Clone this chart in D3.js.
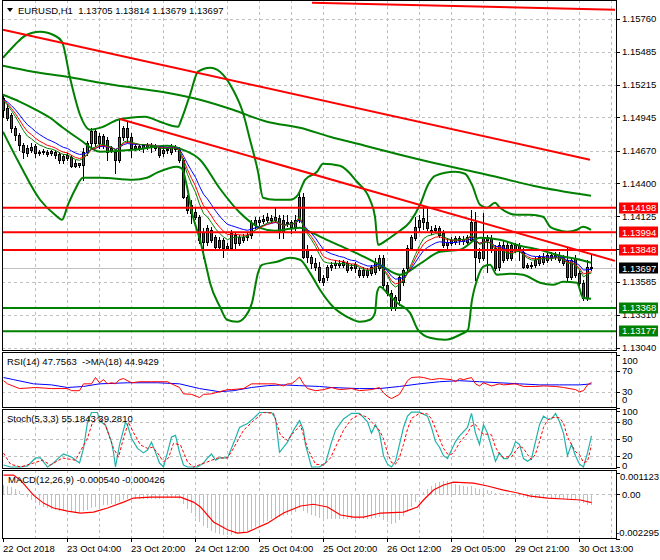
<!DOCTYPE html>
<html><head><meta charset="utf-8">
<script src="https://cdn.jsdelivr.net/npm/d3@7/dist/d3.min.js"></script>
<style>
html,body{margin:0;padding:0;background:#fff;}
svg{display:block;}
text{font-family:"Liberation Sans",Arial,sans-serif;font-size:9.5px;fill:#000;white-space:pre;}
</style></head><body>
<svg id="chart" width="660" height="560"></svg>
<script>
// ---------------- DATA ----------------
const symbolTitle = "EURUSD,H1  1.13705 1.13814 1.13679 1.13697";
const rsiTitle = "RSI(14) 47.7563  ->MA(18) 44.9429";
const stochTitle = "Stoch(5,3,3) 55.1843 39.2810";
const macdTitle = "MACD(12,26,9) -0.000540 -0.000426";

const opens = [1.15107,1.15024,1.14966,1.14858,1.14801,1.14718,1.14693,1.14676,1.14710,1.14660,1.14668,1.14660,1.14652,1.14660,1.14643,1.14627,1.14610,1.14619,1.14569,1.14552,1.14552,1.14660,1.14734,1.14834,1.14734,1.14792,1.14759,1.14693,1.14660,1.14594,1.14784,1.14858,1.14784,1.14693,1.14710,1.14693,1.14718,1.14701,1.14710,1.14693,1.14652,1.14676,1.14660,1.14701,1.14676,1.14594,1.14288,1.14222,1.14164,1.14122,1.13998,1.13916,1.14015,1.13957,1.13932,1.13932,1.13883,1.13866,1.13908,1.13908,1.13932,1.13957,1.13974,1.14056,1.14081,1.14089,1.14098,1.14098,1.14098,1.14114,1.14098,1.14073,1.14040,1.14040,1.14098,1.14288,1.13849,1.13742,1.13742,1.13709,1.13618,1.13626,1.13709,1.13725,1.13742,1.13725,1.13742,1.13709,1.13701,1.13684,1.13684,1.13684,1.13659,1.13668,1.13701,1.13783,1.13560,1.13494,1.13370,1.13436,1.13585,1.13701,1.13866,1.13949,1.14040,1.14081,1.14081,1.14015,1.14031,1.14031,1.13990,1.13916,1.13932,1.13949,1.13932,1.13924,1.13916,1.13932,1.14081,1.13833,1.13783,1.13957,1.13949,1.13866,1.13709,1.13891,1.13891,1.13891,1.13849,1.13891,1.13833,1.13725,1.13725,1.13725,1.13742,1.13750,1.13808,1.13808,1.13792,1.13808,1.13792,1.13767,1.13626,1.13783,1.13659,1.13577,1.13453,1.13705];
const highs = [1.15131,1.15057,1.14982,1.14875,1.14817,1.14734,1.14718,1.14734,1.14726,1.14676,1.14685,1.14676,1.14676,1.14676,1.14660,1.14643,1.14652,1.14635,1.14594,1.14569,1.14693,1.14751,1.14858,1.14858,1.14817,1.14809,1.14784,1.14710,1.14676,1.14933,1.14875,1.14908,1.14817,1.14726,1.14726,1.14726,1.14734,1.14734,1.14726,1.14710,1.14710,1.14701,1.14726,1.14718,1.14701,1.14610,1.14304,1.14263,1.14197,1.14139,1.14031,1.14056,1.14040,1.13974,1.13957,1.13949,1.13908,1.14015,1.13990,1.13974,1.13982,1.13990,1.14098,1.14122,1.14122,1.14139,1.14155,1.14139,1.14197,1.14139,1.14139,1.14139,1.14098,1.14139,1.14321,1.14321,1.13891,1.13808,1.13783,1.13750,1.13643,1.13725,1.13750,1.13767,1.13767,1.13767,1.13758,1.13734,1.13750,1.13701,1.13709,1.13701,1.13725,1.13783,1.13808,1.13808,1.13585,1.13519,1.13477,1.13643,1.13701,1.13891,1.13974,1.14122,1.14139,1.14205,1.14197,1.14048,1.14056,1.14048,1.14015,1.13949,1.13957,1.13965,1.13965,1.13965,1.13974,1.14180,1.14164,1.13866,1.14155,1.13974,1.13974,1.13891,1.13916,1.13932,1.13916,1.13916,1.13908,1.13908,1.13866,1.13742,1.13750,1.13792,1.13808,1.13825,1.13833,1.13833,1.13833,1.13833,1.13808,1.13866,1.13783,1.13808,1.13684,1.13601,1.13767,1.13814];
const lows = [1.14949,1.14925,1.14825,1.14759,1.14676,1.14610,1.14627,1.14660,1.14619,1.14635,1.14643,1.14627,1.14635,1.14610,1.14569,1.14569,1.14594,1.14536,1.14536,1.14536,1.14428,1.14635,1.14693,1.14710,1.14693,1.14693,1.14594,1.14660,1.14487,1.14577,1.14759,1.14743,1.14619,1.14676,1.14676,1.14660,1.14685,1.14660,1.14676,1.14619,1.14627,1.14652,1.14643,1.14668,1.14577,1.14280,1.14155,1.14073,1.14106,1.13908,1.13783,1.13891,1.13916,1.13849,1.13849,1.13792,1.13849,1.13849,1.13866,1.13891,1.13916,1.13932,1.13949,1.14031,1.14056,1.14073,1.14081,1.14081,1.14081,1.13949,1.13949,1.14048,1.13990,1.14015,1.14081,1.13783,1.13750,1.13701,1.13684,1.13585,1.13560,1.13601,1.13684,1.13701,1.13709,1.13709,1.13668,1.13684,1.13668,1.13626,1.13626,1.13626,1.13643,1.13651,1.13684,1.13544,1.13477,1.13354,1.13354,1.13395,1.13560,1.13684,1.13849,1.13932,1.13998,1.14023,1.14015,1.13982,1.13998,1.13957,1.13874,1.13866,1.13891,1.13899,1.13899,1.13899,1.13891,1.13916,1.13601,1.13750,1.13767,1.13668,1.13833,1.13684,1.13684,1.13750,1.13767,1.13767,1.13833,1.13767,1.13701,1.13701,1.13701,1.13709,1.13725,1.13734,1.13750,1.13767,1.13775,1.13750,1.13725,1.13601,1.13610,1.13626,1.13560,1.13436,1.13436,1.13679];
const closes = [1.15007,1.14941,1.14858,1.14801,1.14718,1.14660,1.14652,1.14701,1.14652,1.14652,1.14660,1.14643,1.14668,1.14635,1.14594,1.14594,1.14635,1.14544,1.14544,1.14569,1.14660,1.14734,1.14834,1.14734,1.14792,1.14718,1.14660,1.14676,1.14594,1.14784,1.14858,1.14784,1.14693,1.14710,1.14693,1.14718,1.14701,1.14710,1.14693,1.14635,1.14676,1.14685,1.14701,1.14685,1.14594,1.14288,1.14180,1.14155,1.14122,1.13932,1.13916,1.14031,1.13932,1.13874,1.13874,1.13866,1.13866,1.13990,1.13974,1.13957,1.13957,1.13974,1.14073,1.14098,1.14098,1.14106,1.14122,1.14114,1.14122,1.13998,1.13998,1.14081,1.14081,1.14098,1.14288,1.13792,1.13792,1.13792,1.13709,1.13601,1.13585,1.13709,1.13725,1.13742,1.13725,1.13750,1.13684,1.13701,1.13734,1.13643,1.13643,1.13643,1.13709,1.13750,1.13783,1.13560,1.13494,1.13370,1.13461,1.13626,1.13684,1.13866,1.13957,1.14040,1.14098,1.14114,1.14031,1.13998,1.14015,1.13974,1.13891,1.13891,1.13908,1.13916,1.13949,1.13941,1.13957,1.14081,1.13792,1.13783,1.13957,1.13932,1.13849,1.13701,1.13891,1.13767,1.13783,1.13783,1.13891,1.13849,1.13709,1.13709,1.13717,1.13767,1.13792,1.13792,1.13767,1.13783,1.13808,1.13767,1.13742,1.13626,1.13767,1.13643,1.13577,1.13453,1.13709,1.13697];

// Bollinger band lines: [bar, price]
const bbUpper = [[0,1.15437],[3,1.15545],[5.5,1.15619],[9.25,1.15652],[13,1.15619],[14.75,1.15570],[16.75,1.15272],[19.25,1.14966],[21.75,1.14842],[24.25,1.14858],[28.75,1.14925],[31.75,1.14941],[35.5,1.14949],[39.25,1.14908],[43.75,1.14867],[44.75,1.14941],[46.75,1.15131],[48.75,1.15322],[51.75,1.15355],[54.25,1.15322],[57.5,1.15173],[60,1.14982],[61.75,1.14759],[63.75,1.14495],[65,1.14280],[68,1.14263],[71.75,1.14263],[73.75,1.14304],[75.5,1.14428],[78.5,1.14495],[80,1.14561],[84.25,1.14544],[88.5,1.14412],[91.75,1.14263],[93,1.14122],[93.75,1.13891],[96,1.13932],[98.5,1.13990],[101.75,1.14081],[104.25,1.14222],[106.25,1.14387],[108,1.14461],[113,1.14495],[115.5,1.14478],[117.25,1.14387],[119.25,1.14222],[121,1.14197],[123,1.14238],[124.25,1.14197],[128.5,1.14139],[131.75,1.14139],[135,1.14122],[136.75,1.14040],[138.5,1.14015],[141,1.13998],[143.5,1.14015],[145,1.14040],[147,1.14015]];
const bbMid = [[0,1.15131],[4.25,1.15073],[8.25,1.15007],[11.75,1.14941],[15,1.14858],[19.25,1.14759],[24.25,1.14660],[32.5,1.14676],[41,1.14710],[45,1.14676],[49.25,1.14594],[54.25,1.14354],[59.25,1.14155],[64.25,1.14031],[68,1.14007],[71.75,1.14023],[74.25,1.14031],[76.75,1.13998],[82.5,1.13908],[89.25,1.13808],[94.25,1.13725],[99.25,1.13643],[104.25,1.13734],[109.25,1.13833],[114.25,1.13849],[119.25,1.13949],[124.25,1.13932],[129.25,1.13883],[134.25,1.13849],[139.25,1.13800],[144.25,1.13767],[147,1.13742]];
const bbLower = [[0,1.14825],[4.25,1.14552],[9.25,1.14263],[13,1.14139],[14.75,1.14098],[16.25,1.14222],[18,1.14346],[20,1.14445],[24.25,1.14445],[32.5,1.14428],[36,1.14445],[38.5,1.14487],[43.5,1.14536],[44.75,1.14519],[46,1.14371],[47.25,1.14155],[49.25,1.13932],[51,1.13684],[51.75,1.13577],[54.25,1.13378],[56,1.13271],[58.5,1.13254],[60.5,1.13295],[62.25,1.13411],[63.75,1.13659],[64.75,1.13725],[68.5,1.13750],[71.75,1.13783],[74.25,1.13767],[76.75,1.13659],[79.25,1.13519],[82.5,1.13378],[86,1.13295],[89.25,1.13254],[91.75,1.13271],[93,1.13328],[93.5,1.13494],[94.25,1.13544],[96,1.13494],[98.5,1.13411],[101.75,1.13328],[103.75,1.13188],[106.75,1.13122],[110.5,1.13105],[114.25,1.13147],[116.25,1.13188],[117.25,1.13436],[118.5,1.13601],[120,1.13709],[121.75,1.13725],[123.5,1.13643],[126.75,1.13651],[130,1.13643],[134.25,1.13577],[137.5,1.13560],[140,1.13585],[143.5,1.13577],[145,1.13453],[147,1.13444]];
const slowMA = [[0,1.15371],[7.5,1.15322],[16,1.15280],[24.25,1.15231],[32.5,1.15189],[41,1.15148],[49.25,1.15090],[57.5,1.15007],[66,1.14908],[74.25,1.14858],[81.75,1.14784],[90.5,1.14710],[99.25,1.14635],[107.5,1.14569],[114.25,1.14519],[124.25,1.14445],[132.5,1.14379],[147,1.14296]];
const maPeriods = [13, 9, 7];  // blue, red, green (EMA of closes)

const trendLines = [[[77.25,1.15892],[153,1.15834]],[[0,1.15669],[146.75,1.14594]],[[29,1.14933],[153,1.13758]]];
const resistance = [1.14198, 1.13994, 1.13848];
const support = [1.13368, 1.13177];
const bidPrice = 1.13697;
const priceTicks = [1.15760,1.15485,1.15215,1.14945,1.14670,1.14400,1.14125,1.13855,1.13585,1.13310,1.13040];

const timeLabels = [[0,"22 Oct 2018"],[16,"23 Oct 04:00"],[32,"23 Oct 20:00"],[48,"24 Oct 12:00"],[64,"25 Oct 04:00"],[80,"25 Oct 20:00"],[96,"26 Oct 12:00"],[112,"29 Oct 05:00"],[128,"29 Oct 21:00"],[144,"30 Oct 13:00"]];

const rsiLine = [[0,51],[1,45],[4,36],[8,38],[12,36],[16,36],[17,32],[19,32],[20,45],[22,45],[23,57],[24,47],[25,53],[26,45],[27,47],[28,45],[29,53],[30,55],[32,47],[34,49],[37,49],[41,49],[42,45],[44,38],[45,26],[47,25],[49,19],[50,25],[52,26],[56,34],[57,34],[60,36],[62,45],[66,45],[68,45],[70,41],[71,45],[72,45],[73,51],[74,58],[75,45],[76,36],[78,32],[80,34],[82,38],[84,34],[87,36],[89,32],[92,34],[94,38],[95,28],[96,21],[97,17],[99,25],[100,38],[101,51],[102,57],[104,58],[105,57],[107,53],[109,55],[112,53],[113,49],[114,55],[115,53],[117,57],[118,45],[119,41],[120,47],[122,41],[124,45],[125,43],[128,45],[130,40],[133,40],[135,41],[138,40],[140,38],[143,34],[144,30],[145,32],[146,43],[147,47.76]];
const rsiMA = [[0,57],[2.5,53],[7.5,45],[12,43],[16,38],[20,40],[24,45],[31,47],[38.5,47],[44,45],[49,36],[54,30],[57.5,32],[62,38],[66,41.5],[70,43],[74,41.5],[79,40],[82,38],[89,36],[94,36],[99,40],[104,45],[109,49],[114,51],[119,49],[124,47],[129,45],[134,43],[139,43],[144,43],[147,44.94]];
const rsiLevels = [70, 30];
const rsiTicks = [100, 70, 30, 0];

const stochK = [[0,3.5],[1.75,0],[4.25,0],[6,2],[8,16],[9.25,16],[10,9],[11,0],[12.5,7],[14,17.5],[15,23],[17,17.5],[19,7],[20,33],[21,79],[22,96.5],[23.5,96.5],[24,82],[25.5,74],[27,44],[27.5,26],[28,0],[29,39],[30.5,79],[31,74],[32,51],[33.5,33],[35,25],[36,30],[37,44],[38,26],[39,7],[40,0],[41,26],[42,53],[43,56],[44,26],[45,3.5],[46,0],[48.5,0],[50,7],[51,16],[52,23],[53,12],[54,16],[56,16],[57,33],[58,51],[59,70],[61,77],[62.5,86],[64,96.5],[67,96.5],[68,86],[69,26],[71,44],[72.5,65],[74,82],[75,65],[75.5,39],[77,0],[79,0],[80.5,7],[82,44],[83,65],[85,85],[87,95],[89,95],[91,80],[92,60],[93,75],[94,60],[95,20],[96,5],[97,0],[98,10],[99,40],[100,70],[101,90],[102,97],[104,97],[106,90],[107,70],[108,45],[109,35],[110,20],[111,15],[112,30],[113,45],[114,55],[116,70],[117,95],[118,60],[119,40],[120,75],[121,60],[122,35],[123,10],[124,25],[125,15],[126,15],[127,25],[128,45],[129,40],[130,15],[131,10],[132,15],[133,45],[134,75],[135,90],[136,85],[137,85],[138,95],[139,80],[140,60],[141,20],[142,40],[143,20],[144,5],[145,0],[146,25],[147,55.18]];
const stochD = [[0,24.6],[1.75,5],[4.25,0],[7.5,7],[9.75,12],[11.75,3.5],[14.75,16],[18,12],[21,51],[22.25,79],[23.75,88],[25.5,74],[27.5,33],[28.75,17.5],[30,51],[31.25,79],[32.5,61],[34.25,39],[36,33],[37.25,35],[38.5,25],[40,9],[41.25,16],[42.5,42],[44.25,39],[46,9],[47.5,0],[51,9],[53.5,16],[56,16],[57.5,33],[60,65],[62.5,82],[65,96.5],[67.5,95],[69.25,56],[71,47],[72.5,61],[74.25,74],[76,33],[78,5],[80,3.5],[81.75,16],[83,35],[85,65],[87,85],[89,93],[91,88],[93,72],[94,65],[95,50],[96,25],[97,8],[98,5],[99,17],[100,40],[101,67],[102,86],[104,95],[106,94],[107,85],[108,68],[109,50],[110,33],[111,23],[112,22],[113,30],[114,43],[116,60],[117,73],[118,75],[119,65],[120,58],[121,58],[122,57],[123,35],[124,23],[125,17],[126,18],[127,18],[128,28],[129,37],[130,33],[131,22],[132,13],[133,23],[134,45],[135,70],[136,83],[137,87],[138,88],[139,87],[140,78],[141,53],[142,40],[143,27],[144,22],[145,8],[146,10],[147,39.28]];
const stochLevels = [80, 50, 20];
const stochTicks = [100, 80, 50, 20, 0];

const macdMain = [0.00050,0.00045,0.00040,0.00030,0.00015,0.00000,-0.00015,-0.00030,-0.00045,-0.00055,-0.00065,-0.00070,-0.00075,-0.00080,-0.00085,-0.00085,-0.00085,-0.00090,-0.00090,-0.00090,-0.00085,-0.00080,-0.00070,-0.00065,-0.00060,-0.00055,-0.00055,-0.00050,-0.00050,-0.00040,-0.00030,-0.00025,-0.00025,-0.00025,-0.00025,-0.00025,-0.00025,-0.00025,-0.00025,-0.00025,-0.00025,-0.00020,-0.00020,-0.00020,-0.00025,-0.00050,-0.00075,-0.00100,-0.00120,-0.00145,-0.00165,-0.00175,-0.00190,-0.00200,-0.00205,-0.00210,-0.00210,-0.00210,-0.00205,-0.00200,-0.00195,-0.00190,-0.00180,-0.00170,-0.00160,-0.00150,-0.00140,-0.00130,-0.00125,-0.00120,-0.00115,-0.00110,-0.00100,-0.00090,-0.00070,-0.00085,-0.00100,-0.00110,-0.00115,-0.00125,-0.00130,-0.00130,-0.00130,-0.00130,-0.00130,-0.00130,-0.00130,-0.00130,-0.00130,-0.00130,-0.00130,-0.00130,-0.00130,-0.00125,-0.00120,-0.00135,-0.00145,-0.00155,-0.00150,-0.00135,-0.00115,-0.00090,-0.00065,-0.00040,-0.00015,0.00010,0.00030,0.00045,0.00060,0.00065,0.00070,0.00070,0.00065,0.00055,0.00050,0.00045,0.00040,0.00045,0.00035,0.00030,0.00030,0.00020,0.00015,0.00005,0.00005,0.00000,-0.00005,-0.00005,-0.00010,-0.00010,-0.00015,-0.00020,-0.00020,-0.00020,-0.00020,-0.00020,-0.00020,-0.00020,-0.00020,-0.00020,-0.00025,-0.00030,-0.00025,-0.00030,-0.00035,-0.00045,-0.00055,-0.00054];
const macdSignal = [[0,0.00099],[2.5,0.00099],[4.25,0.00073],[7.5,-0.00004],[10,-0.00045],[12.5,-0.00070],[16,-0.00086],[19.25,-0.00096],[22.5,-0.00091],[26,-0.00070],[30,-0.00040],[32.5,-0.00019],[36.75,-0.00014],[44.25,-0.00014],[47.5,-0.00040],[49.25,-0.00065],[52.5,-0.00142],[56,-0.00182],[58.5,-0.00199],[61,-0.00194],[66,-0.00148],[70,-0.00096],[74.25,-0.00060],[77.5,-0.00051],[81,-0.00065],[84.25,-0.00106],[87.5,-0.00117],[90,-0.00117],[94.25,-0.00096],[100,-0.00091],[103.5,-0.00065],[105,-0.00029],[107.5,0.00022],[110,0.00048],[112.5,0.00063],[117.5,0.00058],[121,0.00043],[125,0.00022],[128.5,0.00007],[131.75,-0.00009],[136,-0.00019],[140,-0.00024],[144.25,-0.00029],[147,-0.000426]];
const macdTicks = [0.001123, 0.00, -0.002295];

// ---------------- LAYOUT ----------------
const svg = d3.select('#chart');
const XL = 2, XR = 616;
const P = {main:{t:0,b:350}, rsi:{t:352,b:407}, st:{t:409,b:468}, md:{t:470,b:538}};
const x = d3.scaleLinear().domain([0,152]).range([3,611]);
const y = d3.scaleLinear().domain([1.1304,1.1576]).range([347.7,18.7]);
const yR = d3.scaleLinear().domain([0,100]).range([407.5,354.9]);
const yS = d3.scaleLinear().domain([0,100]).range([467,410.5]);
const yM = d3.scaleLinear().domain([-0.002295,0.001123]).range([539,472.5]);
const GRID = '#c0c0c0';

svg.append('rect').attr('width',660).attr('height',560).attr('fill','#fff');
const defs = svg.append('defs');
Object.entries(P).forEach(([k,p])=>{
  defs.append('clipPath').attr('id','clip-'+k).append('rect')
    .attr('x',XL+0.5).attr('y',p.t+0.5).attr('width',XR-XL-0.5).attr('height',p.b-p.t-0.5);
});

// vertical grid lines
const vBars = d3.range(8,153,8);
Object.entries(P).forEach(([k,p])=>{
  svg.append('g').selectAll('line').data(vBars).join('line')
    .attr('x1',d=>x(d)+0.5).attr('x2',d=>x(d)+0.5).attr('y1',p.t).attr('y2',p.b)
    .attr('stroke',GRID).attr('stroke-dasharray','3,3');
});
// horizontal grids
function hgrid(vals, sc){
  svg.append('g').selectAll('line').data(vals).join('line')
    .attr('x1',XL).attr('x2',XR).attr('y1',d=>Math.round(sc(d))+0.5).attr('y2',d=>Math.round(sc(d))+0.5)
    .attr('stroke',GRID).attr('stroke-dasharray','3,3');
}
hgrid(priceTicks, y);
hgrid(rsiLevels, yR);
hgrid(stochLevels, yS);
hgrid([0], yM);

// ---------------- MAIN PANEL ----------------
const gm = svg.append('g').attr('clip-path','url(#clip-main)');
gm.append('line').attr('x1',XL).attr('x2',XR).attr('y1',Math.round(y(bidPrice))+0.5).attr('y2',Math.round(y(bidPrice))+0.5).attr('stroke','#c0c0c0');

const idx = d3.range(closes.length);
gm.append('g').selectAll('line').data(idx).join('line')
  .attr('x1',i=>x(i)+0.5).attr('x2',i=>x(i)+0.5)
  .attr('y1',i=>Math.round(y(highs[i]))).attr('y2',i=>Math.round(y(lows[i]))+1)
  .attr('stroke','#000');
gm.append('g').selectAll('rect').data(idx).join('rect')
  .attr('x',i=>x(i)-0.5).attr('width',2)
  .attr('y',i=>Math.round(y(Math.max(opens[i],closes[i])))+0.5)
  .attr('height',i=>Math.max(1,Math.round(y(Math.min(opens[i],closes[i])))-Math.round(y(Math.max(opens[i],closes[i])))))
  .attr('fill',i=>closes[i]>=opens[i]?'#00a000':'#ff0000')
  .attr('stroke','#000').attr('stroke-width',1);

const curve = d3.line().x(d=>x(d[0])).y(d=>y(d[1])).curve(d3.curveMonotoneX);
[bbUpper,bbMid,bbLower,slowMA].forEach(arr=>{
  gm.append('path').attr('d',curve(arr)).attr('fill','none').attr('stroke','#008000').attr('stroke-width',2);
});

const maColors = ['#0000ff','#ff0000','#008000'];
maPeriods.forEach((n,k)=>{
  const a = 2/(n+1); let e = opens[0];
  const vals = closes.map((c,i)=>[i, e = e + a*(c-e)]);
  gm.append('path').attr('d',d3.line().x(d=>x(d[0])+0.5).y(d=>y(d[1]))(vals))
    .attr('fill','none').attr('stroke',maColors[k]).attr('stroke-width',1);
});

const lin = d3.line().x(d=>x(d[0])).y(d=>y(d[1]));
trendLines.forEach(t=>{
  gm.append('path').attr('d',lin(t)).attr('stroke','#ff0000').attr('stroke-width',2).attr('fill','none');
});
resistance.forEach(p=>{
  gm.append('line').attr('x1',XL).attr('x2',XR).attr('y1',y(p)).attr('y2',y(p)).attr('stroke','#ff0000').attr('stroke-width',2);
});
support.forEach(p=>{
  gm.append('line').attr('x1',XL).attr('x2',XR).attr('y1',y(p)).attr('y2',y(p)).attr('stroke','#008000').attr('stroke-width',2);
});

// ---------------- RSI ----------------
const gr = svg.append('g').attr('clip-path','url(#clip-rsi)');
const lR = d3.line().x(d=>x(d[0])+0.5).y(d=>yR(d[1]));
gr.append('path').attr('d',lR(rsiMA)).attr('fill','none').attr('stroke','#0000ff');
gr.append('path').attr('d',lR(rsiLine)).attr('fill','none').attr('stroke','#ff0000');

// ---------------- STOCH ----------------
const gs = svg.append('g').attr('clip-path','url(#clip-st)');
const lS = d3.line().x(d=>x(d[0])+0.5).y(d=>yS(d[1]));
gs.append('path').attr('d',lS(stochK)).attr('fill','none').attr('stroke','#20b2aa').attr('stroke-width',1.2);
gs.append('path').attr('d',lS(stochD)).attr('fill','none').attr('stroke','#ff0000').attr('stroke-dasharray','3,2');

// ---------------- MACD ----------------
const gd = svg.append('g').attr('clip-path','url(#clip-md)');
gd.append('g').selectAll('rect').data(macdMain.map((v,i)=>[i,v])).join('rect')
  .attr('x',d=>x(d[0])).attr('width',1)
  .attr('y',d=>Math.round(Math.min(yM(0),yM(d[1]))))
  .attr('height',d=>Math.max(1,Math.round(Math.abs(yM(d[1])-yM(0)))))
  .attr('fill','#c0c0c0');
gd.append('path').attr('d',d3.line().x(d=>x(d[0])+0.5).y(d=>yM(d[1]))(macdSignal))
  .attr('fill','none').attr('stroke','#ff0000').attr('stroke-width',1.2);

// ---------------- FRAMES ----------------
Object.values(P).forEach(p=>{
  svg.append('rect').attr('x',XL+0.5).attr('y',p.t+0.5).attr('width',XR-XL).attr('height',p.b-p.t)
    .attr('fill','none').attr('stroke','#000');
});

// ---------------- AXIS LABELS ----------------
const ax = svg.append('g');
function rightLabels(vals, sc, fmt, p, padT, padB, size){
  vals.forEach(v=>{
    const yy = Math.max(p.t+padT, Math.min(p.b-padB, sc(v)));
    ax.append('line').attr('x1',XR).attr('x2',XR+4).attr('y1',Math.round(sc(v))+0.5).attr('y2',Math.round(sc(v))+0.5).attr('stroke','#000');
    const t = ax.append('text').attr('x',622).attr('y',yy).attr('dy','0.35em').text(fmt(v));
    if (size) { const w = t.node().getComputedTextLength(); if (622 + w > 659) t.attr('x', 659 - w); }
  });
}
rightLabels(priceTicks, y, d=>d.toFixed(5), P.main, 0, 0);
rightLabels(rsiTicks, yR, d=>String(d), P.rsi, 9, 7);
rightLabels(stochTicks, yS, d=>String(d), P.st, 3, 2);
rightLabels(macdTicks, yM, d=>d===0?'0.00':String(d), P.md, 7, 5, true);

function priceBox(p, color){
  const yy = y(p);
  ax.append('rect').attr('x',619).attr('y',Math.round(yy)-5.5).attr('width',39).attr('height',11).attr('fill',color);
  ax.append('text').attr('x',622).attr('y',yy).attr('dy','0.35em').style('fill','#fff').text(p.toFixed(5));
}
resistance.forEach(p=>priceBox(p,'#ff0000'));
priceBox(bidPrice,'#000');
support.forEach(p=>priceBox(p,'#008000'));

timeLabels.forEach(([b,t])=>{
  ax.append('line').attr('x1',x(b)+0.5).attr('x2',x(b)+0.5).attr('y1',P.md.b).attr('y2',P.md.b+4).attr('stroke','#000');
  ax.append('text').attr('x',x(b)).attr('y',549).attr('dy','0.35em').text(t);
});

ax.append('path').attr('d','M7,8 L13,8 L10,12 Z').attr('fill','#000');
ax.append('text').attr('x',18).attr('y',10.5).attr('dy','0.35em').text(symbolTitle);
ax.append('text').attr('x',7).attr('y',362).attr('dy','0.35em').text(rsiTitle);
ax.append('text').attr('x',7).attr('y',419).attr('dy','0.35em').text(stochTitle);
ax.append('text').attr('x',8).attr('y',479.5).attr('dy','0.35em').text(macdTitle);
</script></body></html>
